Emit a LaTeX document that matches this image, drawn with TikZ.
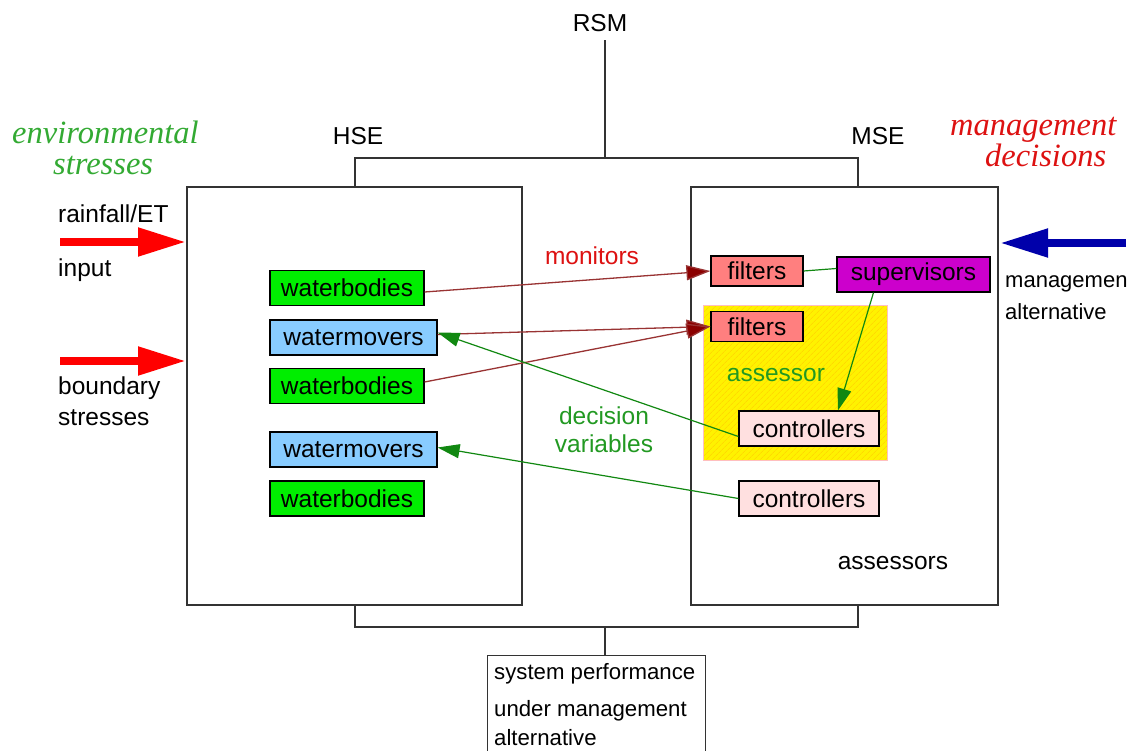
\documentclass[tikz,border=0pt]{standalone}
\usepackage{fontspec}
\setmainfont{Liberation Sans}
\newfontfamily\serifit{Liberation Serif}
\usetikzlibrary{arrows.meta,patterns.meta}
\definecolor{boxgreen}{HTML}{00EE00}
\definecolor{boxblue}{HTML}{88CCFF}
\definecolor{salmon}{HTML}{FF7F7F}
\definecolor{pinkbox}{HTML}{FFE0E0}
\definecolor{purplebox}{HTML}{CC00CC}
\definecolor{darkred}{HTML}{8B0000}
\definecolor{connred}{HTML}{993333}
\definecolor{conngreen}{HTML}{118811}
\definecolor{labgreen}{HTML}{229922}
\definecolor{labred}{HTML}{DD1111}
\definecolor{arrblue}{HTML}{0000AA}
\definecolor{envgreen}{HTML}{33AA33}
\tikzset{
  lbl/.style={inner sep=0pt, font=\fontsize{24.5}{28}\selectfont},
  comp/.style={draw=black, line width=1.2pt, inner sep=0pt, font=\fontsize{24.5}{28}\selectfont, minimum height=35pt},
  frame/.style={draw=black!80, line width=1.3pt},
  mon/.style={draw=connred, line width=1.3pt, -{Triangle[length=24pt,width=15pt,fill=darkred]}},
  dec/.style={draw=conngreen, line width=1.2pt, -{Triangle[length=22pt,width=14pt,fill=conngreen]}},
  bigarrow/.style={line width=8pt, -{Triangle[length=48pt,width=27pt]}},
  italbl/.style={inner sep=0pt, anchor=west, align=left, font=\serifit\itshape\fontsize{32.5}{31}\selectfont},
}
\begin{document}
\begin{tikzpicture}[x=1pt,y=-1pt]
\useasboundingbox (0,0) rectangle (1130,751);
\clip (0,0) rectangle (1130,751);
\fill[white] (0,0) rectangle (1130,751);

% brackets
\draw[frame] (355,187) -- (355,158) -- (858,158) -- (858,187);
\coordinate (rsmtop) at (605,40);
\coordinate (rsmbot) at (605,158);
\draw[frame] (rsmbot) -- (rsmtop);
\node[lbl] (rsm) at (600,23) {RSM};
\draw[frame] (355,605) -- (355,627) -- (858,627) -- (858,605);

% main boxes
\node[frame, minimum width=335pt, minimum height=418pt, inner sep=0pt] (hse) at (354.5,396) {};
\node[frame, minimum width=307pt, minimum height=418pt, inner sep=0pt] (mse) at (844.5,396) {};
\node[lbl] (hsel) at (358,136) {HSE};
\node[lbl] (msel) at (878,136) {MSE};

% bottom box
\node[frame, minimum width=218pt, minimum height=120pt, inner sep=0pt, anchor=north west] (perf) at (487,655) {};
\coordinate (pbtop) at (605,627);
\coordinate (pbbot) at (605,655);
\draw[frame] (pbtop) -- (pbbot);
\node[lbl, anchor=west, font=\fontsize{22.2}{26}\selectfont] (p1) at (494,674) {system performance};
\node[lbl, anchor=west, font=\fontsize{22.2}{26}\selectfont] (p2) at (494,711) {under management};
\node[lbl, anchor=west, font=\fontsize{22.2}{26}\selectfont] (p3) at (494,738) {alternative};

% environmental stresses / management decisions
\node[italbl, text=envgreen] (env) at (12,148) {environmental\\\hspace*{41pt}stresses};
\node[italbl, text=labred] (mgd) at (950,142) {management\\\hspace*{35pt}decisions};

% red input arrows
\coordinate (r1s) at (60,242);
\coordinate (r1e) at (186,242);
\draw[bigarrow, red] (r1s) -- (r1e);
\coordinate (r2s) at (60,361);
\coordinate (r2e) at (186,361);
\draw[bigarrow, red] (r2s) -- (r2e);
\node[lbl, anchor=west] (rain) at (58,214) {rainfall/ET};
\node[lbl, anchor=west] (inp) at (58,270) {input};
\node[lbl, anchor=west] (bnd) at (58,388) {boundary};
\node[lbl, anchor=west] (str) at (58,418) {stresses};

% blue arrow
\coordinate (bs) at (1126,243);
\coordinate (be) at (1000,243);
\draw[bigarrow, arrblue] (bs) -- (be);
\node[lbl, anchor=west, font=\fontsize{22}{26}\selectfont] (ma1) at (1005,284) {managemen};
\node[lbl, anchor=west, font=\fontsize{22}{26}\selectfont] (ma2) at (1005,312) {alternative};

% HSE components
\node[comp, fill=boxgreen, minimum width=154pt] (wb1) at (347,288) {waterbodies};
\node[comp, fill=boxblue, minimum width=167pt] (wm1) at (353.5,337.5) {watermovers};
\node[comp, fill=boxgreen, minimum width=154pt] (wb2) at (347,386) {waterbodies};
\node[comp, fill=boxblue, minimum width=167pt] (wm2) at (353.5,449.5) {watermovers};
\node[comp, fill=boxgreen, minimum width=154pt] (wb3) at (347,498.5) {waterbodies};

% assessor area
\fill[yellow] (703,306) rectangle (887,460);
\fill[pattern={Lines[angle=45,distance=4pt,line width=0.6pt]}, pattern color=orange!40!yellow] (703,306) rectangle (887,460);
\draw[pink, line width=1pt] (703,306) rectangle (887,460);
\node[lbl, text=labgreen] (ass) at (776,375) {assessor};

% MSE components
\node[comp, fill=salmon, minimum width=92pt, minimum height=30pt] (f1) at (757,271) {filters};
\node[comp, fill=purplebox, minimum width=153pt] (sup) at (913.5,274.5) {supervisors};
\node[comp, fill=salmon, minimum width=92pt, minimum height=30pt] (f2) at (757,326.5) {filters};
\node[comp, fill=pinkbox, minimum width=140pt] (c1) at (809,428.5) {controllers};
\node[comp, fill=pinkbox, minimum width=140pt] (c2) at (809,498.5) {controllers};
\node[lbl] (asses) at (893,563) {assessors};

% monitors
\draw[mon] ([yshift=-4pt]wb1.east) -- (f1.west);
\draw[mon] ([yshift=3pt]wm1.east) -- (f2.west);
\draw[mon] ([yshift=4pt]wb2.east) -- (f2.west);
\node[lbl, text=labred] (monl) at (592,256) {monitors};

% decision connectors
\draw[conngreen, line width=1.2pt] (f1.east) -- ([yshift=6pt]sup.west);
\draw[dec] ([xshift=-40pt]sup.south) -- ([xshift=29pt]c1.north);
\draw[dec] ([yshift=-8pt]c1.west) -- ([yshift=5pt]wm1.east);
\draw[dec] (c2.west) -- ([yshift=2pt]wm2.east);
\node[lbl, text=labgreen, align=center] (dv) at (604,430) {decision\\[0pt]variables};
\end{tikzpicture}
\end{document}
